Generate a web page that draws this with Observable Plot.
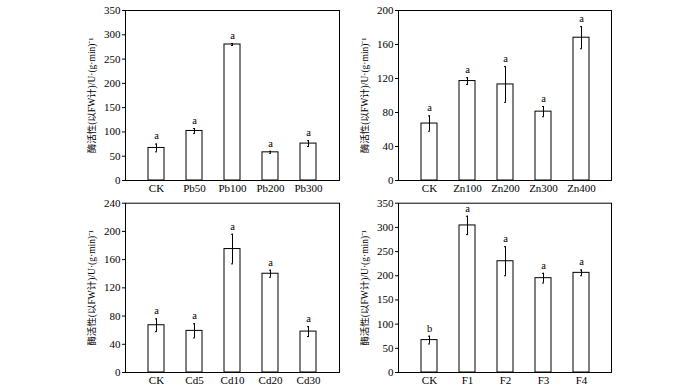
<!DOCTYPE html>
<html><head><meta charset="utf-8">
<script src="https://cdn.jsdelivr.net/npm/d3@7"></script>
<script src="https://cdn.jsdelivr.net/npm/@observablehq/plot@0.6"></script>
<style>
body{margin:0;background:#fff;}
#wrap{position:relative;width:700px;height:391px;overflow:hidden;}
.p{position:absolute;}
</style></head><body>
<div id="wrap"></div>
<script>
const yLabel = "酶活性(以FW计)/U·(g·min)⁻¹";

const pbCats = ["CK","Pb50","Pb100","Pb200","Pb300"];
const pbVals = [67,102,280,58,76];
const pbErrs = [8,5,2,2,6];
const pbSig  = ["a","a","a","a","a"];

const znCats = ["CK","Zn100","Zn200","Zn300","Zn400"];
const znVals = [67,117,113,81,168];
const znErrs = [9,4,21,6,13];
const znSig  = ["a","a","a","a","a"];

const cdCats = ["CK","Cd5","Cd10","Cd20","Cd30"];
const cdVals = [67,59,175,140,58];
const cdErrs = [9,10,21,5,7];
const cdSig  = ["a","a","a","a","a"];

const fCats = ["CK","F1","F2","F3","F4"];
const fVals = [67,304,230,195,206];
const fErrs = [8,19,30,10,6];
const fSig  = ["b","a","a","a","a"];

const panels = [
  {cats:pbCats, vals:pbVals, errs:pbErrs, sig:pbSig, max:350, ticks:[0,50,100,150,200,250,300,350], left:0, top:0, ml:125, mr:11, mt:10},
  {cats:znCats, vals:znVals, errs:znErrs, sig:znSig, max:200, ticks:[0,40,80,120,160,200], left:350, top:0, ml:48, mr:89, mt:10},
  {cats:cdCats, vals:cdVals, errs:cdErrs, sig:cdSig, max:240, ticks:[0,40,80,120,160,200,240], left:0, top:192, ml:125, mr:11, mt:10.7},
  {cats:fCats, vals:fVals, errs:fErrs, sig:fSig, max:350, ticks:[0,50,100,150,200,250,300,350], left:350, top:192, ml:48, mr:89, mt:10.7}
];

const wrap = document.getElementById("wrap");
for (const p of panels) {
  const data = p.cats.map((c,i)=>({cat:c, v:p.vals[i], e:p.errs[i], s:p.sig[i]}));
  const chart = Plot.plot({
    width: 350, height: 200,
    marginLeft: p.ml, marginRight: p.mr, marginTop: p.mt, marginBottom: 20,
    style: {fontFamily: "'Liberation Serif','Times New Roman','Noto Sans CJK SC',serif", fontSize: "11px", color: "#000", background: "#fff"},
    x: {domain: p.cats, padding: 0.58, label: null, tickSize: 0, tickPadding: 4},
    y: {domain: [0, p.max], ticks: p.ticks, tickSize: 3, tickPadding: 2, label: null},
    marks: [
      Plot.frame({stroke: "#000", strokeWidth: 1}),
      Plot.barY(data, {x: "cat", y: "v", fill: "#fff", stroke: "#000", strokeWidth: 1}),
      Plot.ruleX(data, {x: "cat", y1: d=>d.v-d.e, y2: d=>d.v+d.e, stroke: "#000", strokeWidth: 1}),
      Plot.tickY(data, {x: "cat", y: d=>d.v+d.e, stroke: "#000", insetLeft: 7, insetRight: 7}),
      Plot.tickY(data, {x: "cat", y: d=>d.v-d.e, stroke: "#000", insetLeft: 7, insetRight: 7}),
      Plot.text(data, {x: "cat", y: d=>d.v+d.e, text: "s", dy: -8, fontSize: 10.5, fill: "#000"}),
      Plot.axisY({ticks: p.ticks, tickSize: 3, tickPadding: 2, label: null, fontSize: 11}),
      Plot.axisY({ticks: [], tickSize: 0, label: yLabel, labelArrow: "none", labelAnchor: "center", labelOffset: 37, fontSize: 9.5}),
      Plot.axisX({tickSize: 0, tickPadding: 4, label: null, fontSize: 11})
    ]
  });
  // strip any arrow that older Plot versions append to the axis label
  chart.querySelectorAll("text").forEach(t => {
    if (t.textContent.includes("酶")) {
      t.textContent = t.textContent.replace(/[↑↓→←]/g, "").trim();
    }
  });
  const d = document.createElement("div");
  d.className = "p";
  d.style.left = p.left + "px";
  d.style.top = p.top + "px";
  d.appendChild(chart);
  wrap.appendChild(d);
}
</script>
</body></html>
